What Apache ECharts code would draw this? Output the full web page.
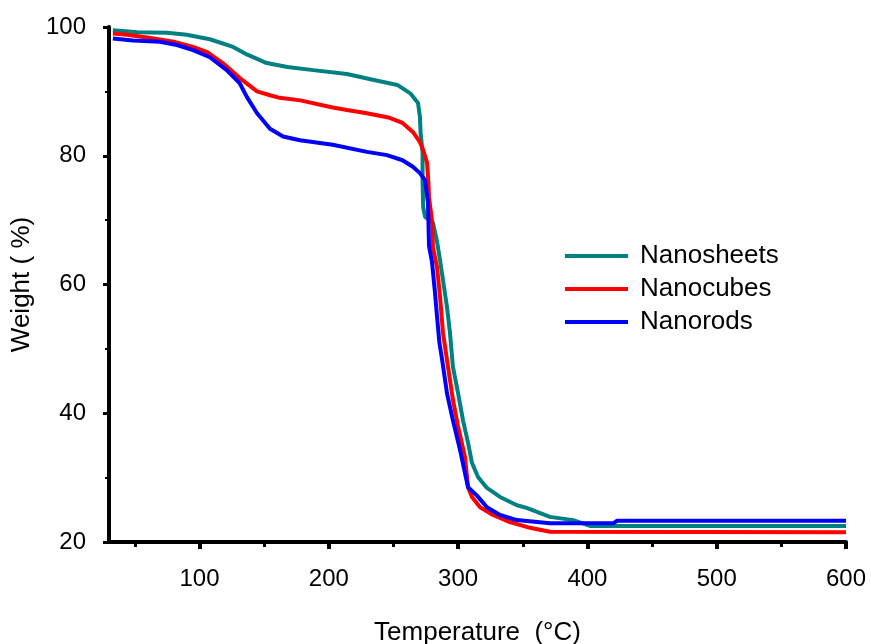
<!DOCTYPE html>
<html>
<head>
<meta charset="utf-8">
<script src="https://cdn.jsdelivr.net/npm/echarts@6/dist/echarts.min.js"></script>
<style>
  html, body { margin: 0; padding: 0; background: #fff; }
  #main { width: 871px; height: 644px; }
</style>
</head>
<body>
<div id="main"></div>
<script>
// 数据
var sheetsT = [33, 52, 75, 90, 108, 126, 137, 152, 168, 188, 214, 234, 253, 263, 269, 270.5, 271, 272.5, 272.5, 273, 274.5, 280.5, 283.5, 286, 288.3, 291.4, 293.7, 296, 300, 303.8, 307.7, 310.7, 315.4, 322.3, 332.4, 345.5, 353, 371, 389, 402, 600];
var sheetsW = [99.5, 99.2, 99.1, 98.8, 98.1, 96.9, 95.7, 94.4, 93.8, 93.3, 92.7, 91.8, 91.0, 89.7, 88.2, 86.0, 83.5, 80.5, 76, 72, 70.5, 69.6, 66.9, 63.8, 60.7, 56.5, 52.5, 47.2, 43.1, 38.9, 35.4, 32.3, 30.1, 28.4, 27.0, 25.7, 25.3, 23.9, 23.4, 22.5, 22.5];

var cubesT = [33, 44, 62, 80, 95, 106, 118, 131, 144.5, 154.5, 162, 178, 203, 214, 229.5, 247, 257, 265, 270.5, 273, 276, 277, 277.5, 280, 280.5, 283.7, 286, 288.3, 292.2, 296, 300, 305.3, 307.7, 310.7, 317, 327, 340, 355.6, 371, 600];
var cubesW = [99.0, 98.8, 98.3, 97.7, 96.9, 96.1, 94.4, 92.1, 90.0, 89.4, 89.0, 88.6, 87.5, 87.1, 86.6, 85.9, 85.1, 83.7, 82.1, 80.9, 78.9, 76.0, 73.5, 69.6, 65.8, 62.7, 58.2, 52.5, 47.2, 42.1, 37.9, 33.2, 28.5, 27.0, 25.4, 24.2, 23.1, 22.2, 21.6, 21.5];

var rodsT = [33, 48.6, 69.4, 82.6, 95, 108, 121, 131, 136.7, 144.5, 154.5, 164.6, 177.7, 203, 229.5, 245, 257, 265, 270.5, 274.4, 276.7, 277.5, 279.8, 282, 283.7, 285.5, 287.5, 291.4, 296, 301.5, 305.3, 307.7, 314.6, 322.3, 332.4, 345.5, 371, 420, 423, 600];
var rodsW = [98.2, 97.9, 97.7, 97.2, 96.4, 95.3, 93.3, 91.3, 89.1, 86.6, 84.2, 83.0, 82.4, 81.7, 80.6, 80.1, 79.3, 78.3, 77.3, 76.2, 72.7, 66.0, 63.5, 59.0, 55.0, 51.0, 48.5, 43.1, 38.9, 34.3, 30.7, 28.5, 27.2, 25.4, 24.2, 23.4, 22.9, 22.9, 23.3, 23.3];

var names = ['Nanosheets', 'Nanocubes', 'Nanorods'];
var colors = ['#008080', '#ff0000', '#0000ff'];

var xMajor = [100, 200, 300, 400, 500, 600];
var xMinor = [50, 150, 250, 350, 450, 550];

var font = 'Liberation Sans';

function pairs(t, w) {
    var d = [];
    for (var i = 0; i < t.length; i++) {
        d.push([t[i], w[i]]);
    }
    return d;
}

var allData = [pairs(sheetsT, sheetsW), pairs(cubesT, cubesW), pairs(rodsT, rodsW)];

var series = [];
for (var i = 0; i < names.length; i++) {
    series.push({
        name: names[i],
        type: 'line',
        xAxisIndex: 0,
        data: allData[i],
        color: colors[i],
        symbol: 'none',
        lineStyle: { width: 4, color: colors[i] }
    });
}

var myChart = echarts.init(document.getElementById('main'));
var option = {
    animation: false,
    backgroundColor: '#fff',
    grid: { left: 109, right: 25, top: 27, bottom: 102, outerBoundsMode: 'none' },
    legend: {
        orient: 'vertical',
        left: 565,
        top: 243,
        padding: 0,
        icon: 'rect',
        itemWidth: 63,
        itemHeight: 4,
        itemGap: 7,
        data: names,
        textStyle: { fontFamily: font, fontSize: 26, color: '#000', lineHeight: 25, padding: [0, 0, 0, 7] }
    },
    xAxis: [{
        type: 'value',
        min: 30,
        max: 600,
        name: 'Temperature  (\u00b0C)',
        nameLocation: 'middle',
        nameGap: 78,
        nameTextStyle: { fontFamily: font, fontSize: 26, color: '#000' },
        axisLine: { lineStyle: { color: '#000', width: 4 } },
        axisTick: { customValues: xMajor, length: 7, lineStyle: { color: '#000', width: 4 } },
        axisLabel: { customValues: xMajor, margin: 25, fontFamily: font, fontSize: 24, color: '#000' },
        splitLine: { show: false }
    }, {
        type: 'value',
        min: 30,
        max: 600,
        position: 'bottom',
        axisLine: { show: false },
        axisTick: { customValues: xMinor, length: 5, lineStyle: { color: '#000', width: 3 } },
        axisLabel: { show: false },
        splitLine: { show: false }
    }],
    yAxis: {
        type: 'value',
        min: 20,
        max: 100,
        interval: 20,
        name: 'Weight ( %)',
        nameLocation: 'middle',
        nameGap: 65,
        nameTextStyle: { fontFamily: font, fontSize: 26, color: '#000' },
        axisLine: { show: true, lineStyle: { color: '#000', width: 4 } },
        axisTick: { show: true, length: 6, lineStyle: { color: '#000', width: 3 } },
        minorTick: { show: true, splitNumber: 2, length: 4, lineStyle: { color: '#000', width: 2 } },
        axisLabel: { margin: 23, fontFamily: font, fontSize: 24, color: '#000' },
        splitLine: { show: false }
    },
    series: series
};
myChart.setOption(option);
</script>
</body>
</html>
